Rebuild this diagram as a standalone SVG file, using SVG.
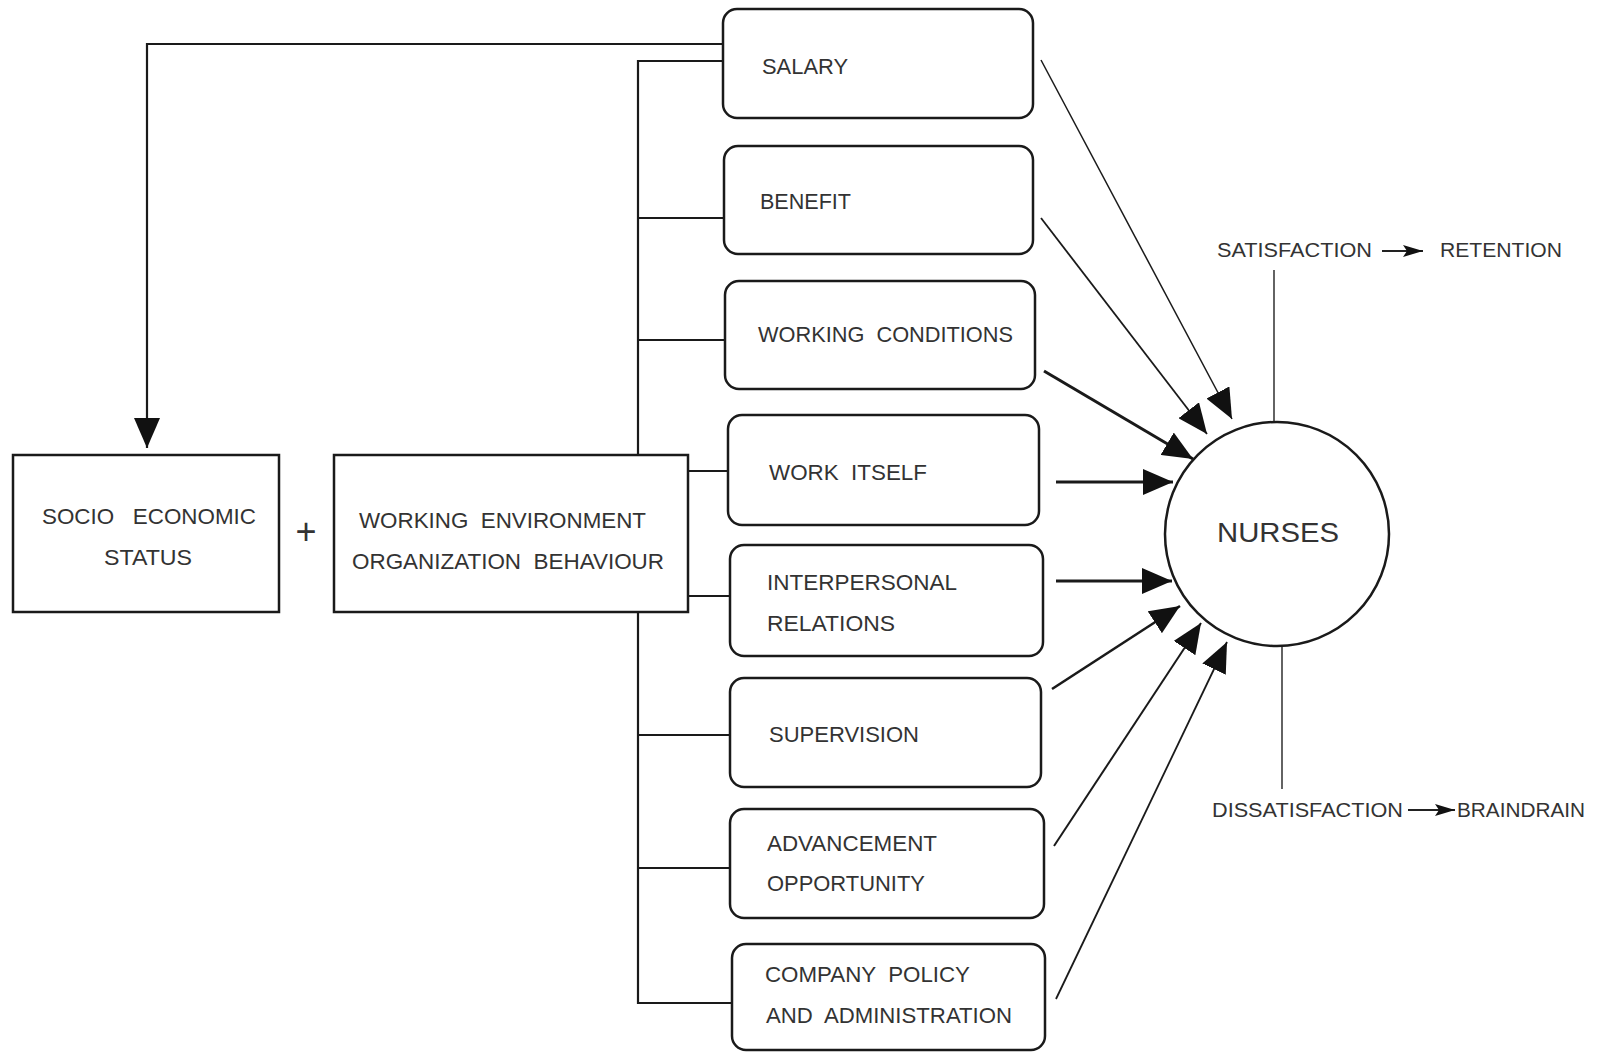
<svg xmlns="http://www.w3.org/2000/svg" width="1607" height="1053" viewBox="0 0 1607 1053">
<style>
.box{fill:#fff;stroke:#1a1a1a;stroke-width:2.5}
.t{font-family:"Liberation Sans",Arial,sans-serif;font-size:22px;fill:#333;white-space:pre}
.s{font-family:"Liberation Sans",Arial,sans-serif;font-size:20px;fill:#333}
.ln{fill:none;stroke:#1a1a1a;stroke-width:2.2}
.thin{fill:none;stroke:#222;stroke-width:1.4}
</style>
<defs>
<marker id="ah" markerUnits="userSpaceOnUse" markerWidth="32" markerHeight="26" refX="30" refY="13" orient="auto">
<path d="M0,0 L30,13 L0,26 z" fill="#111"/>
</marker>
<marker id="sh" markerUnits="userSpaceOnUse" markerWidth="20" markerHeight="12" refX="20" refY="6" orient="auto">
<path d="M0,0 L20,6 L0,12 L4,6 z" fill="#111"/>
</marker>
</defs>
<rect width="1607" height="1053" fill="#fff"/>

<g id="connectors">
<path class="ln" d="M723,44 H147 V448" marker-end="url(#ah)"/>
<path class="ln" d="M723,61 H638 V455"/>
<path class="ln" d="M638,612 V1003 H732"/>
<path class="ln" d="M638,218 H724"/>
<path class="ln" d="M638,340 H725"/>
<path class="ln" d="M688,471 H728"/>
<path class="ln" d="M688,596 H730"/>
<path class="ln" d="M638,735 H730"/>
<path class="ln" d="M638,868 H730"/>
<line x1="1041" y1="60" x2="1232" y2="419" stroke="#1a1a1a" stroke-width="1.5" marker-end="url(#ah)"/>
<line x1="1041" y1="218" x2="1207" y2="434" stroke="#1a1a1a" stroke-width="1.8" marker-end="url(#ah)"/>
<line x1="1044" y1="371" x2="1193" y2="459" stroke="#1a1a1a" stroke-width="3" marker-end="url(#ah)"/>
<line x1="1056" y1="482" x2="1173" y2="482" stroke="#1a1a1a" stroke-width="3" marker-end="url(#ah)"/>
<line x1="1056" y1="581" x2="1172" y2="581" stroke="#1a1a1a" stroke-width="3" marker-end="url(#ah)"/>
<line x1="1052" y1="689" x2="1180" y2="606" stroke="#1a1a1a" stroke-width="2.6" marker-end="url(#ah)"/>
<line x1="1054" y1="846" x2="1201" y2="623" stroke="#1a1a1a" stroke-width="2" marker-end="url(#ah)"/>
<line x1="1056" y1="999" x2="1227" y2="642" stroke="#1a1a1a" stroke-width="1.8" marker-end="url(#ah)"/>
<line class="thin" x1="1274" y1="270" x2="1274" y2="422"/>
<line class="thin" x1="1282" y1="646" x2="1282" y2="789"/>
<line x1="1382" y1="251" x2="1423" y2="251" stroke="#222" stroke-width="2" marker-end="url(#sh)"/>
<line x1="1408" y1="810" x2="1455" y2="810" stroke="#222" stroke-width="2" marker-end="url(#sh)"/>
</g>

<g id="socio">
<rect class="box" x="13" y="455" width="266" height="157"/>
<text class="t" x="42" y="524" textLength="214" lengthAdjust="spacingAndGlyphs" xml:space="preserve">SOCIO   ECONOMIC</text>
<text class="t" x="104" y="565" textLength="88" lengthAdjust="spacingAndGlyphs">STATUS</text>
</g>

<g id="plus">
<text x="306" y="544" text-anchor="middle" font-family="Liberation Sans, Arial, sans-serif" font-size="36" fill="#333">+</text>
</g>

<g id="environment">
<rect class="box" x="334" y="455" width="354" height="157"/>
<text class="t" x="359" y="528" textLength="287" lengthAdjust="spacingAndGlyphs" xml:space="preserve">WORKING  ENVIRONMENT</text>
<text class="t" x="352" y="569" textLength="312" lengthAdjust="spacingAndGlyphs" xml:space="preserve">ORGANIZATION  BEHAVIOUR</text>
</g>

<g id="salary">
<rect class="box" x="723" y="9" width="310" height="109" rx="14"/>
<text class="t" x="762" y="74" textLength="86" lengthAdjust="spacingAndGlyphs">SALARY</text>
</g>
<g id="benefit">
<rect class="box" x="724" y="146" width="309" height="108" rx="14"/>
<text class="t" x="760" y="209" textLength="91" lengthAdjust="spacingAndGlyphs">BENEFIT</text>
</g>
<g id="working-conditions">
<rect class="box" x="725" y="281" width="310" height="108" rx="14"/>
<text class="t" x="758" y="342" textLength="255" lengthAdjust="spacingAndGlyphs" xml:space="preserve">WORKING  CONDITIONS</text>
</g>
<g id="work-itself">
<rect class="box" x="728" y="415" width="311" height="110" rx="14"/>
<text class="t" x="769" y="480" textLength="158" lengthAdjust="spacingAndGlyphs" xml:space="preserve">WORK  ITSELF</text>
</g>
<g id="interpersonal">
<rect class="box" x="730" y="545" width="313" height="111" rx="14"/>
<text class="t" x="767" y="590" textLength="190" lengthAdjust="spacingAndGlyphs">INTERPERSONAL</text>
<text class="t" x="767" y="631" textLength="128" lengthAdjust="spacingAndGlyphs">RELATIONS</text>
</g>
<g id="supervision">
<rect class="box" x="730" y="678" width="311" height="109" rx="14"/>
<text class="t" x="769" y="742" textLength="150" lengthAdjust="spacingAndGlyphs">SUPERVISION</text>
</g>
<g id="advancement">
<rect class="box" x="730" y="809" width="314" height="109" rx="14"/>
<text class="t" x="767" y="851" textLength="170" lengthAdjust="spacingAndGlyphs">ADVANCEMENT</text>
<text class="t" x="767" y="891" textLength="158" lengthAdjust="spacingAndGlyphs">OPPORTUNITY</text>
</g>
<g id="company">
<rect class="box" x="732" y="944" width="313" height="106" rx="14"/>
<text class="t" x="765" y="982" textLength="205" lengthAdjust="spacingAndGlyphs" xml:space="preserve">COMPANY  POLICY</text>
<text class="t" x="766" y="1023" textLength="246" lengthAdjust="spacingAndGlyphs" xml:space="preserve">AND  ADMINISTRATION</text>
</g>

<g id="nurses">
<circle cx="1277" cy="534" r="112" fill="#fff" stroke="#1a1a1a" stroke-width="2.5"/>
<text x="1217" y="542" font-family="Liberation Sans, Arial, sans-serif" font-size="27" fill="#333" textLength="122" lengthAdjust="spacingAndGlyphs">NURSES</text>
</g>

<g id="satisfaction">
<text class="s" x="1217" y="257" textLength="155" lengthAdjust="spacingAndGlyphs">SATISFACTION</text>
</g>
<g id="retention">
<text class="s" x="1440" y="257" textLength="122" lengthAdjust="spacingAndGlyphs">RETENTION</text>
</g>
<g id="dissatisfaction">
<text class="s" x="1212" y="817" textLength="191" lengthAdjust="spacingAndGlyphs">DISSATISFACTION</text>
</g>
<g id="braindrain">
<text class="s" x="1457" y="817" textLength="128" lengthAdjust="spacingAndGlyphs">BRAINDRAIN</text>
</g>
</svg>
